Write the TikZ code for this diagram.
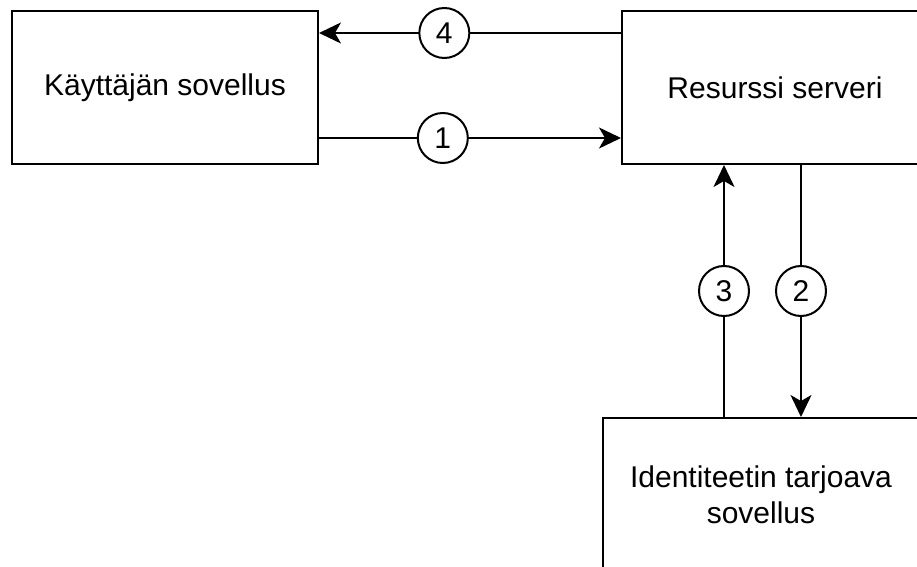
\documentclass[tikz,border=0pt]{standalone}
\usepackage{fontspec}
\setmainfont{Liberation Sans}
\usetikzlibrary{positioning,arrows.meta}

\tikzset{
  block/.style={draw, line width=1pt, fill=white, minimum width=153pt,
    minimum height=76.5pt, align=center, font=\fontsize{15}{18}\selectfont},
  flow/.style={line width=1pt, -{Stealth[length=11pt, width=10.5pt, inset=3pt]}},
  num/.style={circle, draw, line width=1pt, fill=white, minimum size=25pt,
    inner sep=0pt, font=\fontsize{15}{18}\selectfont}
}

\begin{document}
\begin{tikzpicture}[x=0.5pt, y=-0.5pt]
    \useasboundingbox (0,0) rectangle (917,567);
    \clip (0,0) rectangle (917,567);

    % Boxes
    \node[block] (user) at (165,87.5) {Käyttäjän sovellus};
    \node[block] (server) at (775,87.5) {Resurssi serveri};
    \node[block, minimum width=158pt] (idp) at (761,494.5) {Identiteetin tarjoava\\sovellus};

    % Requests
    \draw[flow] ([yshift=-25.25pt]user.east) -- node[num, pos=0.41] (n1) {1} ([yshift=-25.25pt]server.west);
    \draw[flow] ([xshift=13pt]server.south) -- node[num] (n2) {2} ([xshift=13pt]server.south |- idp.north);
    \draw[flow] ([xshift=-25.5pt]server.south |- idp.north) -- node[num] (n3) {3} ([xshift=-25.5pt]server.south);
    \draw[flow] ([yshift=27.25pt]server.west) -- node[num, pos=0.585] (n4) {4} ([yshift=27.25pt]user.east);

\end{tikzpicture}
\end{document}
